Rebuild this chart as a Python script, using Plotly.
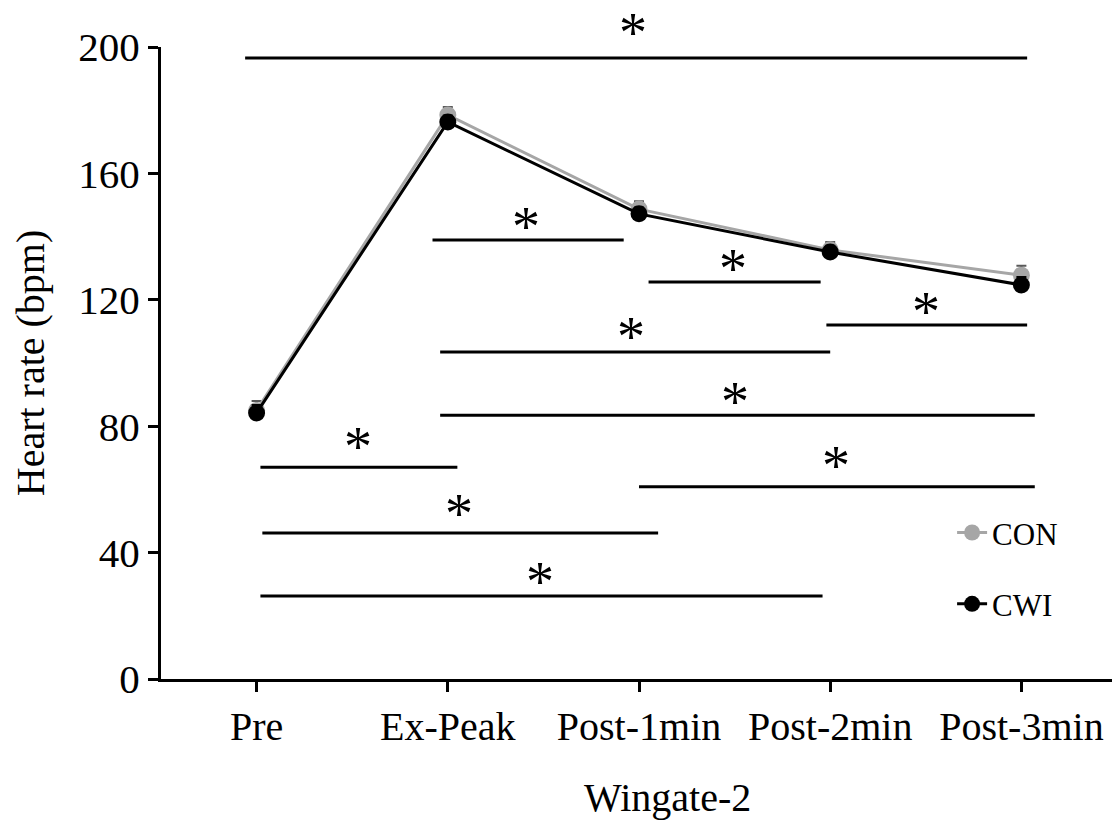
import plotly.graph_objects as go

categories = ["Pre", "Ex-Peak", "Post-1min", "Post-2min", "Post-3min"]
con_values = [85.0, 178.5, 148.7, 135.8, 127.8]
con_err = [3.0, 2.5, 2.5, 2.5, 3.0]
cwi_values = [84.2, 176.3, 147.2, 135.1, 124.7]
cwi_err = [2.5, 2.0, 2.0, 2.0, 2.5]
y_range = [0, 200]
y_ticks = [0, 40, 80, 120, 160, 200]

# significance bars (in category units / bpm)
sig_start = [-0.06, 0.92, 2.05, 2.98, 0.96, 0.96, 0.02, 2.00, 0.03, 0.02]
sig_end = [4.03, 1.92, 2.95, 4.03, 3.00, 4.07, 1.05, 4.07, 2.10, 2.96]
sig_y = [196.5, 138.9, 125.6, 112.0, 103.5, 83.5, 67.0, 60.8, 46.2, 26.3]
sig_star_x = [1.97, 1.41, 2.49, 3.50, 1.96, 2.50, 0.53, 3.03, 1.06, 1.48]
sig_star_y = [206.0, 144.6, 131.2, 117.8, 109.8, 89.2, 75.0, 69.0, 53.8, 32.3]

FONT = "Liberation Serif, Times New Roman, serif"
xpos = list(range(len(categories)))

fig = go.Figure()
fig.add_trace(go.Scatter(
    x=xpos, y=con_values, name="CON", mode="lines+markers",
    line=dict(color="#a6a6a6", width=3),
    marker=dict(color="#a6a6a6", size=17),
    error_y=dict(type="data", array=con_err, arrayminus=[0]*5, symmetric=False,
                 color="#595959", thickness=2, width=5),
    legendgroup="a",
))
fig.add_trace(go.Scatter(
    x=xpos, y=cwi_values, name="CWI", mode="lines+markers",
    line=dict(color="black", width=3),
    marker=dict(color="black", size=17),
    error_y=dict(type="data", array=cwi_err, arrayminus=[0]*5, symmetric=False,
                 color="black", thickness=2, width=5),
    legendgroup="b",
))

for x0, x1, yv in zip(sig_start, sig_end, sig_y):
    fig.add_shape(type="line", x0=x0, x1=x1, y0=yv, y1=yv, xref="x", yref="y",
                  line=dict(color="black", width=3))
# asterisks: use the y-axis domain reference so the top one (above 200) stays visible
for sx, sy in zip(sig_star_x, sig_star_y):
    fig.add_annotation(x=sx, y=(sy - y_range[0]) / (y_range[1] - y_range[0]),
                       text="*", showarrow=False, xref="x", yref="y domain",
                       xanchor="center", yanchor="middle", yshift=-5, borderpad=0,
                       font=dict(family=FONT, size=56, color="black"))

# x-axis title (placed slightly right of centre as in the original)
fig.add_annotation(x=0.530, y=-0.187, xref="paper", yref="paper", text="Wingate-2",
                   showarrow=False, xanchor="center", yanchor="middle",
                   font=dict(family=FONT, size=40, color="black"))

# the page body has an 8px margin, so the figure is 8px smaller and shifted
fig.update_layout(
    width=1112, height=812,
    margin=dict(l=153, r=3, t=39, b=141),
    paper_bgcolor="white", plot_bgcolor="white",
    font=dict(family=FONT, color="black"),
    showlegend=True,
    legend=dict(x=0.8275, y=0.274, xanchor="left", yanchor="top",
                font=dict(family=FONT, size=31, color="black"),
                bgcolor="rgba(0,0,0,0)", traceorder="grouped", tracegroupgap=28),
)
fig.update_xaxes(
    range=[-0.5, 4.5], tickmode="array",
    tickvals=xpos + [4.5], ticktext=categories + [""],
    showline=True, linecolor="black", linewidth=3,
    ticks="outside", ticklen=10, tickwidth=2.5, tickcolor="black",
    tickfont=dict(family=FONT, size=40, color="black"),
    showgrid=False, zeroline=False, automargin=False,
)
fig.update_yaxes(
    range=y_range, tickmode="array", tickvals=y_ticks,
    showline=True, linecolor="black", linewidth=3,
    ticks="outside", ticklen=10, tickwidth=2.5, tickcolor="black",
    tickfont=dict(family=FONT, size=41, color="black"),
    showgrid=False, zeroline=False, automargin=False,
    title=dict(text="Heart rate (bpm)", font=dict(family=FONT, size=40, color="black"), standoff=26),
)

fig.write_html("out.html")
